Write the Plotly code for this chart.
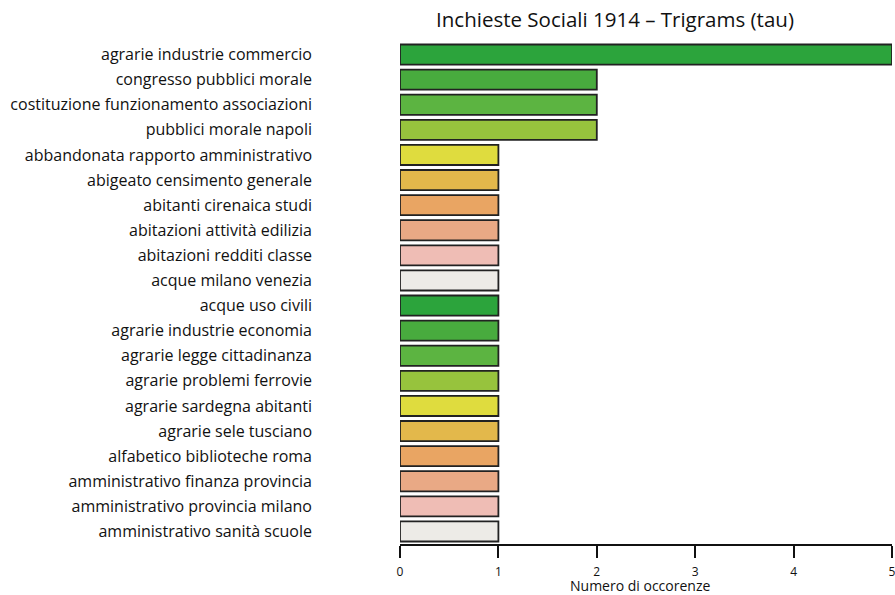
import plotly.graph_objects as go

trigrams = [
    "agrarie industrie commercio",
    "congresso pubblici morale",
    "costituzione funzionamento associazioni",
    "pubblici morale napoli",
    "abbandonata rapporto amministrativo",
    "abigeato censimento generale",
    "abitanti cirenaica studi",
    "abitazioni attività edilizia",
    "abitazioni redditi classe",
    "acque milano venezia",
    "acque uso civili",
    "agrarie industrie economia",
    "agrarie legge cittadinanza",
    "agrarie problemi ferrovie",
    "agrarie sardegna abitanti",
    "agrarie sele tusciano",
    "alfabetico biblioteche roma",
    "amministrativo finanza provincia",
    "amministrativo provincia milano",
    "amministrativo sanità scuole",
]
occorrenze = [5, 2, 2, 2, 1, 1, 1, 1, 1, 1, 1, 1, 1, 1, 1, 1, 1, 1, 1, 1]
palette = ["#2ca43c", "#48ab3e", "#5cb441", "#97c33d", "#dfdc3e",
           "#e3b84b", "#e9a563", "#e9a985", "#efbdb5", "#edebe7"]
colors = [palette[i % len(palette)] for i in range(len(trigrams))]
x_ticks = [0, 1, 2, 3, 4, 5]

fig = go.Figure(go.Bar(
    x=occorrenze,
    y=trigrams,
    orientation="h",
    marker=dict(color=colors, line=dict(color="#222222", width=1.8)),
    width=0.8,
))

W, H = 895, 595
fig.update_layout(
    width=W, height=H,
    paper_bgcolor="white", plot_bgcolor="white",
    margin=dict(l=400, r=3, t=42, b=51),
    font=dict(family="Open Sans, sans-serif", color="#111"),
    title=dict(text="Inchieste Sociali 1914 – Trigrams (tau)",
               x=615 / W, xanchor="center", y=1 - 20 / H, yanchor="middle",
               font=dict(size=20.5, color="#111")),
    showlegend=False,
    annotations=[dict(text="Numero di occorenze", xref="paper", yref="paper",
                      x=(640 - 400) / 492, y=0, yshift=-41, xanchor="center",
                      yanchor="middle", showarrow=False,
                      font=dict(size=14, color="#111"))],
)
fig.update_xaxes(
    range=[0, 5], tickvals=x_ticks, ticktext=[str(v) for v in x_ticks],
    showgrid=False, zeroline=False, showline=True, linecolor="#111", linewidth=1.6,
    ticks="outside", ticklen=12, tickwidth=1.6, tickcolor="#111",
    tickfont=dict(size=12), ticklabelstandoff=4, ticklabeloverflow="allow",
    automargin=False,
)
fig.update_yaxes(
    categoryorder="array", categoryarray=trigrams, autorange="reversed",
    showgrid=False, zeroline=False, showline=False, ticks="",
    tickfont=dict(size=16, color="#111"), ticklabelstandoff=87, automargin=False,
)

fig.write_html(
    "out.html",
    config={"displayModeBar": False},
    post_script="document.body.style.margin='0';document.body.style.overflow='hidden';",
)
